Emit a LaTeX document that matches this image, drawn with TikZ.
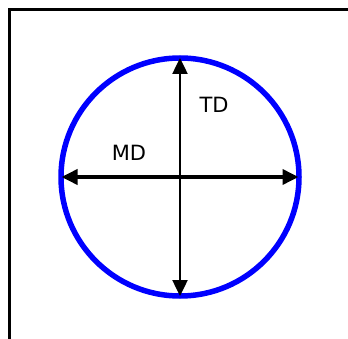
\documentclass[tikz,border=0pt]{standalone}
\usepackage{fontspec}
\setmainfont{DejaVu Sans}
\usetikzlibrary{arrows.meta}
\definecolor{ringblue}{RGB}{0,0,255}
\tikzset{
  dirarrow/.style={{Triangle[length=16pt,width=15pt]}-{Triangle[length=16pt,width=15pt]},black},
  dirlabel/.style={font=\fontsize{21}{23}\selectfont,inner sep=0pt}
}

\begin{document}
\begin{tikzpicture}[x=1pt,y=-1pt]
  \useasboundingbox (0,0) rectangle (348,339);
  % frame
  \draw[line width=2.2pt](9.5,339)--(9.5,9.5)--(348,9.5);
  % ring
  \coordinate (c) at (180,177);
  \draw[ringblue,line width=5.5pt](c)circle(119);
  \coordinate (west) at (61.5,177);
  \coordinate (east) at (298.5,177);
  \coordinate (north) at (180,58);
  \coordinate (south) at (180,296);
  \draw[dirarrow,line width=3.6pt](west)--(east);
  \draw[dirarrow,line width=2.5pt](north)--(south);
  \node[dirlabel] (md) at (129,153) {MD};
  \node[dirlabel] (td) at (214,104.5) {TD};
\end{tikzpicture}
\end{document}
